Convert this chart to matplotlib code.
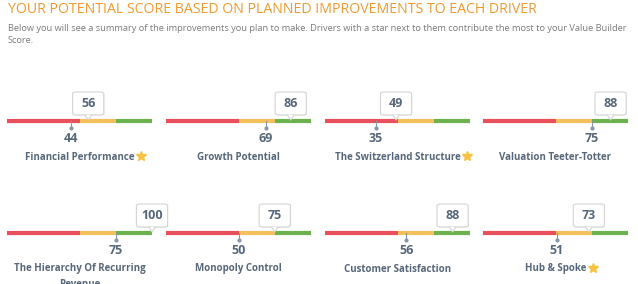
import matplotlib.pyplot as plt
from matplotlib.patches import FancyBboxPatch

plt.rcParams['font.family'] = ['Open Sans', 'DejaVu Sans']

drivers = ["Financial Performance", "Growth Potential", "The Switzerland Structure",
           "Valuation Teeter-Totter", "The Hierarchy Of Recurring\nRevenue", "Monopoly Control",
           "Customer Satisfaction", "Hub & Spoke"]
current = [44, 69, 35, 75, 75, 50, 56, 51]
potential = [56, 86, 49, 88, 100, 75, 88, 73]
starred = [True, False, True, False, False, False, False, True]

bands = [(0, 50, "#e9505c"), (50, 75, "#f4c05a"), (75, 100, "#6cb24e")]

W, H = 638, 284
fig = plt.figure(figsize=(W / 100, H / 100), dpi=100)
fig.patch.set_facecolor("white")

fig.text(8 / W, 1 - 9.5 / H, "YOUR POTENTIAL SCORE BASED ON PLANNED IMPROVEMENTS TO EACH DRIVER",
         color="#f0992e", fontsize=10.15, va="center", ha="left")
fig.text(8 / W, 1 - 34.5 / H,
         "Below you will see a summary of the improvements you plan to make. Drivers with a star next to them "
         "contribute the most to your Value Builder\nScore.",
         color="#7a7a7a", fontsize=6.7, va="center", ha="left", linespacing=1.5)

col_x = [7, 166, 325, 483]
bar_w = 145
row_y = [121, 233]
text_col = "#56677a"

axes = []
for i, name in enumerate(drivers):
    x0 = col_x[i % 4]
    yb = row_y[i // 4]
    top, bot = 35, 45
    ax = fig.add_axes([x0 / W, 1 - (yb + bot) / H, bar_w / W, (top + bot) / H])
    ax.set_xlim(0, 100)
    ax.set_ylim(bot, -top)
    ax.axis("off")
    for a, b, c in bands:
        ax.plot([a, b], [0, 0], color=c, lw=3, solid_capstyle="butt", clip_on=False, zorder=1)

    # current score
    cx = current[i]
    ax.plot([cx, cx], [0, 7], color="#8797a8", lw=0.8, zorder=2, clip_on=False)
    ax.plot([cx], [7], "o", ms=2, color="#8797a8", zorder=2, clip_on=False)
    ax.text(cx, 17, str(cx), ha="center", va="center", fontsize=9, fontweight="bold",
            color=text_col, clip_on=False)

    # potential score callout
    px = potential[i]
    bw = 21.5
    shadow = FancyBboxPatch((px - bw / 2 + 0.4, -28.4), bw, 23, boxstyle="round,pad=0,rounding_size=2.5",
                            mutation_aspect=1 / 1.45, fc="#e8e8e8", ec="none",
                            zorder=3, clip_on=False)
    ax.add_patch(shadow)
    box = FancyBboxPatch((px - bw / 2, -29), bw, 23, boxstyle="round,pad=0,rounding_size=2.5",
                         mutation_aspect=1 / 1.45, fc="white", ec="#d4d4d4", lw=0.8,
                         zorder=4, clip_on=False)
    ax.add_patch(box)
    ax.fill([px - 2.2, px + 2.2, px], [-6, -6, -1], fc="white", ec="none", zorder=5, clip_on=False)
    ax.plot([px - 2.2, px, px + 2.2], [-6, -1, -6], color="#d4d4d4", lw=0.8, zorder=5, clip_on=False)
    ax.text(px, -17.5, str(px), ha="center", va="center", fontsize=9, fontweight="bold",
            color=text_col, zorder=6, clip_on=False)

    lbl = ax.text(50, 30.5, name, ha="center", va="top", fontsize=7,
                  fontweight="bold", color=text_col, clip_on=False, linespacing=1.6)
    axes.append((ax, lbl))

fig.canvas.draw()
r = fig.canvas.get_renderer()
for i, (ax, lbl) in enumerate(axes):
    if starred[i]:
        bb = lbl.get_window_extent(r)
        xd, _ = ax.transData.inverted().transform((bb.x1 + 7, bb.y1))
        ax.plot([xd], [34.5], marker="*", ms=7, color="#f5c242", clip_on=False)

fig.savefig("out.png", dpi=100)
